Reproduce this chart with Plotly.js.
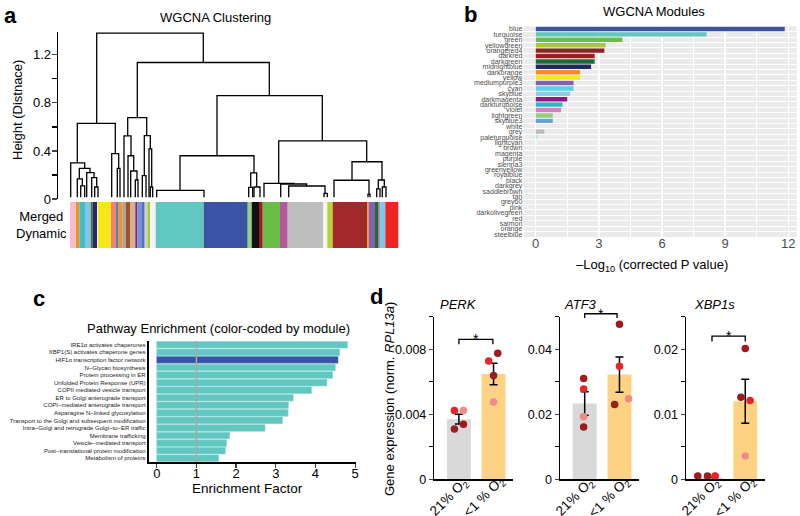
<!DOCTYPE html>
<html><head><meta charset="utf-8">
<script src="https://cdn.plot.ly/plotly-3.0.1.min.js"></script>
<style>html,body{margin:0;padding:0;background:#fff}#chart{width:800px;height:516px}</style>
</head><body><div id="chart"></div>
<script>
// ================= DATA =================
// Panel a: dendrogram merges (x in leaf-position units, heights in distance)
const linkLeftX  = [26.7, 7.3, 0.7, 9.3, 7.3, 10.7, 16.7, 21.7, 24.7, 41.7, 47.3, 67.3, 57.7, 54, 58, 60.7, 65.3, 74.3, 72.3, 79, 80.3, 147, 110, 86.7, 180.7, 178.7, 184, 208.7, 194, 210.7, 218.7, 254, 282, 264, 298, 308.3, 306.7, 312.3];
const linkRightX = [133.3, 45.3, 14.7, 20, 12.3, 14.7, 24, 26.7, 28, 48.7, 50, 199.3, 76.7, 61, 63.7, 67, 68, 80.3, 76, 81.7, 82.7, 252.3, 184, 134, 186.7, 182.7, 190, 296.7, 224, 236.7, 255, 257.3, 312, 299, 300, 314.3, 310, 316];
const linkHeight = [1.38, 0.63, 0.30, 0.255, 0.167, 0.11, 0.22, 0.178, 0.10, 0.378, 0.255, 1.136, 0.678, 0.525, 0.36, 0.233, 0.158, 0.528, 0.194, 0.417, 0.10, 0.861, 0.36, 0.072, 0.217, 0.097, 0.10, 0.483, 0.13, 0.125, 0.108, 0.047, 0.31, 0.156, 0.04, 0.158, 0.085, 0.10];
const linkLeftChildH  = [0.63, 0.30, null, 0.167, null, null, null, null, null, null, null, 0.678, 0.525, null, null, null, null, 0.194, null, null, null, 0.36, 0.072, null, 0.097, null, null, 0.13, null, null, null, null, 0.156, null, null, 0.085, null, null];
const linkRightChildH = [1.136, 0.378, 0.255, 0.22, 0.11, null, 0.178, 0.10, null, 0.255, null, 0.861, 0.528, 0.36, 0.233, 0.158, null, 0.417, null, 0.10, null, 0.483, 0.217, null, 0.10, null, null, 0.31, 0.125, 0.108, 0.047, null, 0.158, 0.04, null, 0.10, null, null];
const leafHeight = 0.015;

// Panel a: merged dynamic module colour bar
const moduleBarColors = ['#f7bccb','#f7901e','#3fbfcb','#82c8e6','#556b2f','#25286a','#ffffff','#f4e81c','#f47f72','#4d84c4','#f7941d','#a6a6a6','#a0522d','#d2b48c','#8b1a89','#7b8fc8','#4f6fc8','#cfcfcf','#a8c93a','#f4f4f4','#62c6c1','#3a53a4','#95d07f','#111111','#9e1b20','#6abd45','#b5579c','#bebebe','#f4f4f4','#b5d334','#a3282a','#f7901e','#8262a8','#1d6b3a','#d07fbf','#6ecff0','#ee2424'];
const moduleBarWidths = [6,3.3,5.7,5.7,2,4.6,0.7,13,5,2.7,4,3.3,4,5.3,2,4,3.4,2.6,2.7,5.7,48,44,4,7.3,3.7,17.3,7.7,35.6,4,5.4,34.6,1.4,6.3,3.7,2,4.6,13];

// Panel b: module enrichment
const moduleNames = ['blue','turquoise','green','yellowgreen','orangered4','darkred','darkgreen','midnightblue','darkorange','yellow','mediumpurple3','cyan','skyblue','darkmagenta','darkturquoise','violet','lightgreen','skyblue3','white','grey','paleturquoise','lightcyan','brown','magenta','purple','sienna3','greenyellow','royalblue','black','darkgrey','saddlebrown','tan','grey60','pink','darkolivegreen','red','salmon','orange','steelblue'];
const moduleLogP = [11.83,8.12,4.12,3.32,3.26,2.80,2.80,2.63,2.11,2.11,1.80,1.80,1.63,1.50,1.27,1.20,0.81,0.81,0,0.41,0.09,0.06,0,0,0,0,0,0,0,0,0,0,0,0,0,0,0,0,0];
const moduleColors = ['#3a53a4','#62c6c1','#6abd45','#a8c93a','#8b2323','#9e1b20','#1d6b3a','#24275e','#f7901e','#f5e81a','#8262a8','#5ccfe6','#87ceeb','#8b1a89','#2cb8bf','#d07fbf','#90d07f','#6a9fd0','#ffffff','#bdbdbd','#afeeee','#e0ffff','#a52a2a','#ff00ff','#a020f0','#cd6839','#adff2f','#4169e1','#000000','#a9a9a9','#8b4513','#d2b48c','#999999','#ffc0cb','#556b2f','#ff0000','#fa8072','#ffa500','#4682b4'];

// Panel c: pathway enrichment
const pathwayNames = ['IRE1α activates chaperones','XBP1(S) activates chaperone genes','HIF1α transcription factor network','N−Glycan biosynthesis','Protein processing in ER','Unfolded Protein Response (UPR)','COPII mediated vesicle transport','ER to Golgi anterograde transport','COPI−mediated anterograde transport','Asparagine N−linked glycosylation','Transport to the Golgi and subsequent modification','Intra−Golgi and retrograde Golgi−to−ER traffic','Membrane trafficking','Vesicle−mediated transport','Post−translational protein modification','Metabolism of proteins'];
const pathwayEnrichment = [4.81,4.61,4.57,4.50,4.43,4.29,3.90,3.44,3.32,3.31,3.17,2.73,1.84,1.76,1.73,1.56];
const pathwayModule = ['turquoise','turquoise','blue','turquoise','turquoise','turquoise','turquoise','turquoise','turquoise','turquoise','turquoise','turquoise','turquoise','turquoise','turquoise','turquoise'];

// Panel d: qPCR
const conditions = ['21% O<sub>2</sub>', '&lt;1 % O<sub>2</sub>'];
const geneNames = ['PERK','ATF3','XBP1s'];
const perkMean = [0.0037, 0.00648], perkSem = [0.0003, 0.00066];
const atf3Mean = [0.0233, 0.0322],  atf3Sem = [0.0036, 0.0054];
const xbp1sMean = [0.0003, 0.0120], xbp1sSem = [0.00004, 0.0034];
const perkPoints  = [[0.00423,0.00423,0.00338,0.0031],[0.00728,0.00775,0.00638,0.00476]];
const atf3Points  = [[0.031,0.0278,0.0192,0.0161],[0.0477,0.0348,0.023,0.0248]];
const xbp1sPoints = [[0.0005,0.0005,0.0005,0.0005],[0.0201,0.0126,0.0121,0.0036]];
const perkDonor  = [['red','pink','dark','dark2'],['red','dark','dark2','pink']];
const atf3Donor  = [['dark','red','pink','dark2'],['dark','red','dark2','pink']];
const xbp1sDonor = [['pink','dark','dark2','red'],['dark','dark2','red','pink']];
const perkJitter  = [[-0.13,0.13,0.13,-0.13],[-0.14,0.12,0,0]];
const atf3Jitter  = [[-0.03,-0.03,-0.03,-0.03],[0,0,-0.14,0.26]];
const xbp1sJitter = [[0.13,-0.37,-0.09,0.13],[0,-0.125,0.14,0]];
const sigBrackets = [[0.0086,0.0083],[0.0509,0.0496],[0.0220,0.0212]];

// ================= STYLE / LAYOUT =================
const FONT = 'Liberation Sans, Arial, Helvetica, sans-serif';
const W = 800, H = 516;
const PX = x => x / W, PY = y => 1 - y / H;
const donorColor = {dark:'#a11a20', dark2:'#9a1d22', red:'#ec2227', pink:'#f28a8a'};
const modColor = {turquoise:'#62c6c1', blue:'#3953a4'};
const modLine = {turquoise:'#8ad9d3', blue:'#6b86c9'};

const traces = [];

// dendrogram
const dx = [], dy = [];
for (let i = 0; i < linkHeight.length; i++) {
  const hl = linkLeftChildH[i] === null ? leafHeight : linkLeftChildH[i];
  const hr = linkRightChildH[i] === null ? leafHeight : linkRightChildH[i];
  dx.push(linkLeftX[i], linkLeftX[i], linkRightX[i], linkRightX[i], null);
  dy.push(hl, linkHeight[i], linkHeight[i], hr, null);
}
traces.push({type:'scatter', mode:'lines', x:dx, y:dy, xaxis:'x', yaxis:'y',
  line:{color:'#000', width:1.3}, hoverinfo:'skip'});

// colour bar
const cbx = []; let acc = 0;
moduleBarWidths.forEach(w => { cbx.push(acc + w / 2); acc += w; });
traces.push({type:'bar', x:cbx, y:moduleBarWidths.map(() => 1), width:moduleBarWidths,
  xaxis:'x2', yaxis:'y2', marker:{color:moduleBarColors, line:{width:0}}, hoverinfo:'skip'});

// panel b
traces.push({type:'bar', orientation:'h', x:moduleLogP, y:moduleNames.map((_, i) => i), width:0.82,
  xaxis:'x3', yaxis:'y3', marker:{color:moduleColors, line:{width:0}}});

// panel c
traces.push({type:'bar', orientation:'h', x:pathwayEnrichment, y:pathwayNames, width:0.88,
  xaxis:'x4', yaxis:'y4', marker:{color:pathwayModule.map(m => modColor[m]),
  line:{color:pathwayModule.map(m => modLine[m]), width:0.6}}});

// panel d
const dSets = [
  {mean:perkMean, sem:perkSem, pts:perkPoints, donor:perkDonor, jit:perkJitter},
  {mean:atf3Mean, sem:atf3Sem, pts:atf3Points, donor:atf3Donor, jit:atf3Jitter},
  {mean:xbp1sMean, sem:xbp1sSem, pts:xbp1sPoints, donor:xbp1sDonor, jit:xbp1sJitter}
];
dSets.forEach((s, k) => {
  const ax = 'x' + (5 + k), ay = 'y' + (5 + k);
  traces.push({type:'bar', x:[0, 1], y:s.mean, width:0.69, xaxis:ax, yaxis:ay,
    marker:{color:['#d9d9d9', '#fdd383'], line:{width:0}},
    error_y:{type:'data', array:s.sem, color:'#000', thickness:1.5, width:4}});
  const px = [], py = [], pc = [];
  s.pts.forEach((grp, g) => grp.forEach((v, j) => {
    px.push(g + s.jit[g][j]); py.push(v); pc.push(donorColor[s.donor[g][j]]);
  }));
  traces.push({type:'scatter', mode:'markers', x:px, y:py, xaxis:ax, yaxis:ay, cliponaxis:false,
    marker:{color:pc, size:7.5, line:{width:0}}});
});

// axes
const hidden = {visible:false, fixedrange:true};
const dDomY = [PY(479.3), PY(316.7)];
const dDomX = [[PX(434.3), PX(513.3)], [PX(560), PX(639.3)], [PX(686), PX(765)]];
const dXRange = [-0.71, 1.57];
const dYRange = [[0, 0.01], [0, 0.05], [0, 0.025]];
const dDtick = [0.004, 0.02, 0.01];

const layout = {
  width:W, height:H, margin:{l:0, r:0, t:0, b:0}, showlegend:false,
  paper_bgcolor:'#fff', plot_bgcolor:'rgba(0,0,0,0)', font:{family:FONT, color:'#000'},
  barmode:'overlay',
  xaxis:Object.assign({domain:[PX(58), PX(400)], range:[-12, 330], anchor:'y'}, hidden),
  yaxis:{domain:[PY(199), PY(32)], range:[0, 1.39], anchor:'x', showline:true, linewidth:1.3, linecolor:'#000',
    ticks:'outside', ticklen:5, tickwidth:1.2, tickmode:'linear', tick0:0, dtick:0.4, ticklabelstandoff:-2,
    minor:{dtick:0.2, ticks:'outside', ticklen:5, tickwidth:1.2, tickcolor:'#000'},
    showgrid:false, zeroline:false, tickfont:{size:13}},
  xaxis2:Object.assign({domain:[PX(58), PX(400)], range:[-12, 330], anchor:'y2'}, hidden),
  yaxis2:Object.assign({domain:[PY(248), PY(202)], range:[0, 1], anchor:'x2'}, hidden),
  xaxis3:{domain:[PX(523.3), PX(796.7)], range:[-0.59, 12.4], anchor:'y3', tickmode:'linear', tick0:0, dtick:3,
    showgrid:true, gridcolor:'#fff', gridwidth:1.5, minor:{dtick:1.5, showgrid:true, gridcolor:'#fff', gridwidth:1.2},
    ticks:'', zeroline:false, showline:false, ticklabelstandoff:-3, tickfont:{size:13, color:'#4d4d4d'}},
  yaxis3:{domain:[PY(237), PY(26.3)], range:[38.5, -0.5], anchor:'x3', tickmode:'array',
    tickvals:moduleNames.map((_, i) => i), ticktext:moduleNames, ticks:'', showgrid:false, zeroline:false,
    minor:{tickmode:'linear', tick0:0.5, dtick:1, showgrid:true, gridcolor:'#fff', gridwidth:1},
    tickfont:{size:7, color:'#4d4d4d'}, showline:false},
  xaxis4:{domain:[PX(149), PX(355.5)], range:[-0.195, 5.01], anchor:'y4', showline:true, linewidth:1.5,
    linecolor:'#000', ticks:'outside', ticklen:4, tickwidth:1.2, dtick:1, tick0:0, tickmode:'linear',
    ticklabelstandoff:-5, showgrid:false, zeroline:false, tickfont:{size:13}},
  yaxis4:{domain:[PY(462), PY(341)], anchor:'x4', autorange:'reversed', type:'category', showline:true,
    linewidth:2.2, linecolor:'#000', ticks:'', tickmode:'linear', tick0:0, dtick:1, showgrid:false,
    tickfont:{size:6, color:'#222'}},
  shapes:[
    {type:'rect', xref:'x3 domain', yref:'y3 domain', x0:0, x1:1, y0:0, y1:1, fillcolor:'#ebebeb',
      line:{width:0}, layer:'below'},
    {type:'line', xref:'x4', yref:'y4 domain', x0:1, x1:1, y0:0, y1:1, line:{color:'#a8a8a8', width:1.5}, layer:'above'}
  ],
  annotations:[]
};
for (let k = 0; k < 3; k++) {
  layout['xaxis' + (5 + k)] = {domain:dDomX[k], range:dXRange, anchor:'y' + (5 + k), showline:true,
    linewidth:1.5, linecolor:'#000', ticks:'', tickmode:'array', tickvals:[0, 1], showticklabels:false,
    showgrid:false, zeroline:false};
  layout['yaxis' + (5 + k)] = {domain:dDomY, range:dYRange[k], anchor:'x' + (5 + k), showline:true,
    linewidth:1.5, linecolor:'#000', ticks:'outside', ticklen:4, tickwidth:1.3, tickmode:'linear', tick0:0,
    dtick:dDtick[k], minor:{dtick:dDtick[k] / 2, ticks:'outside', ticklen:4, tickwidth:1.3, tickcolor:'#000'},
    showgrid:false, zeroline:false, tickfont:{size:12.5}};
}

// significance brackets and rotated condition labels (converted to paper coords)
const toPX = (k, v) => dDomX[k][0] + (v - dXRange[0]) / (dXRange[1] - dXRange[0]) * (dDomX[k][1] - dDomX[k][0]);
const toPY = (k, v) => dDomY[0] + (v - dYRange[k][0]) / (dYRange[k][1] - dYRange[k][0]) * (dDomY[1] - dDomY[0]);
const bracketEnds = [[0, 0.98], [0, 0.93], [0.04, 1]];
sigBrackets.forEach((b, k) => {
  const x0 = toPX(k, bracketEnds[k][0]), x1 = toPX(k, bracketEnds[k][1]);
  const yt = toPY(k, b[0]), yb = toPY(k, b[1]);
  layout.shapes.push({type:'path', xref:'paper', yref:'paper',
    path:`M${x0},${yb} L${x0},${yt} L${x1},${yt} L${x1},${yb}`, line:{color:'#000', width:1.3}});
  layout.annotations.push({xref:'paper', yref:'paper', x:(x0 + x1) / 2, y:yt, text:'*',
    showarrow:false, xanchor:'center', yanchor:'middle', font:{size:14}});
  conditions.forEach((c, g) => {
    layout.annotations.push({xref:'paper', yref:'paper', x:toPX(k, g) - 9.5 / W, y:PY(497.5), text:c,
      textangle:-45, showarrow:false, xanchor:'center', yanchor:'middle', font:{size:13.5}});
  });
});

const ann = (x, y, text, opts) => Object.assign({xref:'paper', yref:'paper', x:PX(x), y:PY(y), text,
  showarrow:false, xanchor:'center', yanchor:'middle', font:{size:13}}, opts || {});
layout.annotations.push(
  ann(2, 15, '<b>a</b>', {xanchor:'left', font:{size:22}}),
  ann(462, 14, '<b>b</b>', {xanchor:'left', font:{size:22}}),
  ann(31, 298, '<b>c</b>', {xanchor:'left', font:{size:22}}),
  ann(368, 296, '<b>d</b>', {xanchor:'left', font:{size:22}}),
  ann(215.5, 17, 'WGCNA Clustering'),
  ann(18, 110, 'Height (Distnace)', {textangle:-90}),
  ann(41, 225, 'Merged<br>Dynamic'),
  ann(654, 11, 'WGCNA Modules'),
  ann(652, 265, '–Log<sub>10</sub> (corrected P value)'),
  ann(218, 328, 'Pathway Enrichment (color-coded by module)'),
  ann(247, 488, 'Enrichment Factor', {font:{size:13.5}}),
  ann(389, 399, 'Gene expression (norm. <i>RPL13a</i>)', {textangle:-90}),
  ann(438, 304, '<i>PERK</i>', {xanchor:'left', font:{size:13}}),
  ann(562, 304, '<i>ATF3</i>', {xanchor:'left', font:{size:13}}),
  ann(692, 304, '<i>XBP1s</i>', {xanchor:'left', font:{size:13}})
);

Plotly.newPlot('chart', traces, layout, {displayModeBar:false, staticPlot:true});
</script>
</body></html>
